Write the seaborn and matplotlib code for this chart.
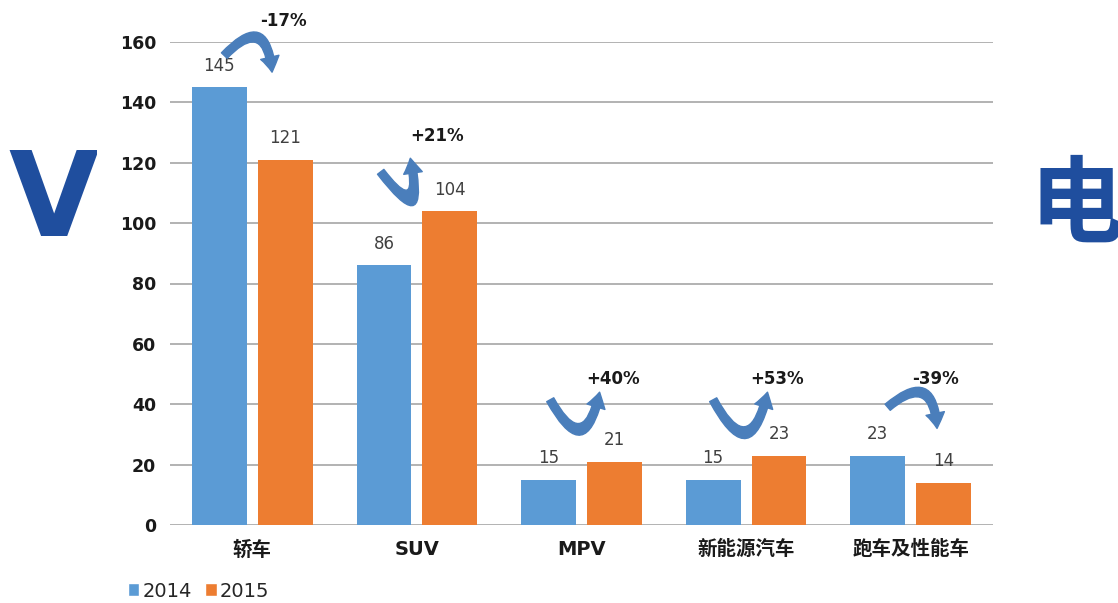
import numpy as np
import pandas as pd
import matplotlib
matplotlib.use("Agg")
import matplotlib.pyplot as plt
from matplotlib.patches import Patch, Rectangle
import seaborn as sns

categorias = ["轿车", "SUV", "MPV", "新能源汽车", "跑车及性能车"]
ventas_2014 = [145, 86, 15, 15, 23]
ventas_2015 = [121, 104, 21, 23, 14]
cambios = ["-17%", "+21%", "+40%", "+53%", "-39%"]
anios = ["2014", "2015"]
y_ticks = [0, 20, 40, 60, 80, 100, 120, 140, 160]

# geometria de las flechas (desfase respecto a la categoria y a la barra mas alta)
flecha_ini = [(-0.17, 10.5), (-0.22, 13), (-0.19, 20.5), (-0.2, 18.5), (-0.14, 16)]
flecha_fin = [(0.12, 5), (-0.04, 17.5), (0.11, 23), (0.13, 21), (0.16, 9)]
flecha_txt = [(0.19, 22), (0.12, 25), (0.19, 27.5), (0.19, 25.5), (0.15, 25.5)]
flecha_rad = [-1.1, 2.2, 1.35, 1.35, -1.0]

AZUL = "#5B9BD5"
NARANJA = "#ED7D31"
FLECHA = "#4A7EBB"
MARCA = "#1F4E9E"

sns.set_theme(style="white")
plt.rcParams['font.family'] = ['Noto Sans CJK SC', 'DejaVu Sans']

df = pd.DataFrame({
    "cat": categorias * 2,
    "valor": ventas_2014 + ventas_2015,
    "anio": [anios[0]] * len(categorias) + [anios[1]] * len(categorias),
})

fig = plt.figure(figsize=(11.18, 6.03), dpi=100)
ax = fig.add_axes([170 / 1118, 1 - 525 / 603, 823 / 1118, 483 / 603])

# marca de agua de fondo (recortada como en el original)
fig.text(8 / 1118, 1 - 203 / 603, "V", fontsize=84, fontweight="bold",
         color=MARCA, family="DejaVu Sans", va="center", ha="left", zorder=-3)
fig.patches.append(Rectangle((97 / 1118, 0.5), 70 / 1118, 0.3, transform=fig.transFigure,
                             facecolor="white", edgecolor="none", zorder=-2))
fig.text(1029 / 1118, 1 - 207 / 603, "电", fontsize=68, fontweight="bold",
         color=MARCA, va="center", ha="left", zorder=-3)

sns.barplot(data=df, x="cat", y="valor", hue="anio", palette=[AZUL, NARANJA],
            saturation=1, gap=0.17, width=0.8, linewidth=0, ax=ax, legend=False, zorder=2)

for cont in ax.containers:
    ax.bar_label(cont, padding=9, fontsize=12, color="#404040", family="DejaVu Sans")

ax.set_ylim(0, 160)
ax.set_xlim(-0.5, len(categorias) - 0.5)
ax.set_yticks(y_ticks)
ax.set_yticklabels([str(t) for t in y_ticks], fontweight="bold", fontsize=12.5,
                   color="#1a1a1a", family="DejaVu Sans")
ax.grid(axis="y", color="#A6A6A6", lw=1.2, zorder=0)
ax.set_axisbelow(True)
for s in ax.spines.values():
    s.set_visible(False)
ax.tick_params(axis="both", length=0)
ax.tick_params(axis="y", pad=10)
ax.tick_params(axis="x", pad=11)
ax.set_xticks(range(len(categorias)))
ax.set_xticklabels(categorias, fontweight="bold", fontsize=14, color="#1a1a1a",
                   family=['DejaVu Sans', 'Noto Sans CJK SC'])
ax.set_xlabel("")
ax.set_ylabel("")

# flechas de variacion
for i, (a, b, txt) in enumerate(zip(ventas_2014, ventas_2015, cambios)):
    tope = max(a, b)
    ini = (i + flecha_ini[i][0], tope + flecha_ini[i][1])
    fin = (i + flecha_fin[i][0], tope + flecha_fin[i][1])
    ax.annotate("", xy=fin, xytext=ini, annotation_clip=False,
                arrowprops=dict(arrowstyle="simple,head_length=0.6,head_width=0.75,tail_width=0.32",
                                connectionstyle=f"arc3,rad={flecha_rad[i]}", color=FLECHA,
                                mutation_scale=18, shrinkA=0, shrinkB=0))
    ax.text(i + flecha_txt[i][0], tope + flecha_txt[i][1], txt, fontsize=12, fontweight="bold",
            color="#1a1a1a", family="DejaVu Sans", ha="center", va="center", clip_on=False)

handles = [Patch(facecolor=AZUL, label=anios[0]), Patch(facecolor=NARANJA, label=anios[1])]
fig.legend(handles=handles, loc="lower left", bbox_to_anchor=(118 / 1118, -0.012), ncol=2,
           frameon=False, handlelength=0.6, handleheight=0.6, borderaxespad=0.1,
           handletextpad=0.15, columnspacing=0.7, prop={"family": "DejaVu Sans", "size": 14})

fig.savefig("out.png", dpi=100)
